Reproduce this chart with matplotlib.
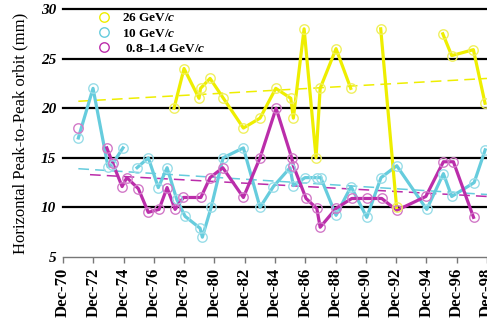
import numpy as np
import matplotlib
matplotlib.use('Agg')
import matplotlib.pyplot as plt
from matplotlib.lines import Line2D

plt.rcParams['font.family'] = ['Liberation Serif', 'DejaVu Serif']
plt.rcParams['mathtext.fontset'] = 'custom'
plt.rcParams['mathtext.rm'] = 'Liberation Serif:bold'
plt.rcParams['mathtext.it'] = 'Liberation Serif:italic:bold'

# measurement dates (decimal years) and peak-to-peak orbit (mm); nan = no data
yr_26 = [1978.25, 1978.91, 1979.90, 1980.00, 1980.63, 1981.51, 1982.83, 1983.93,
         1984.97, 1985.96, 1986.13, 1986.84, 1987.63, 1987.90, 1988.95, 1989.92,
         1990.90, 1991.90, 1992.95, 1994.50, 1996.00, 1996.59, 1998.02, 1998.79]
pp_26 = [20.0, 24.0, 21.0, 22.0, 23.0, 21.0, 18.0, 19.0,
         22.0, 21.0, 19.0, 28.0, 15.0, 22.0, 26.0, 22.0,
         np.nan, 28.0, 10.0, np.nan, 27.5, 25.3, 25.9, 20.5]

yr_10 = [1971.93, 1972.90, 1973.89, 1974.15, 1974.88, 1975.30, 1975.81, 1976.55,
         1977.21, 1977.79, 1978.43, 1978.98, 1979.97, 1980.12, 1980.70, 1981.49,
         1982.83, 1983.93, 1984.81, 1985.91, 1986.13, 1986.90, 1987.68, 1987.94,
         1988.95, 1989.94, 1990.98, 1991.92, 1992.96, 1994.94, 1996.04, 1996.59,
         1998.07, 1998.80]
pp_10 = [17.0, 22.0, 14.1, 14.3, 16.0, np.nan, 14.0, 15.0,
         12.0, 14.0, 10.8, 9.1, 7.9, 7.0, 10.0, 15.0,
         16.0, 10.0, 12.1, 14.0, 12.2, 13.0, 13.0, 13.0,
         9.2, 12.1, 9.0, 13.0, 14.2, 9.8, 13.4, 11.1,
         12.5, 15.8]

yr_ps = [1971.93, 1972.80, 1973.81, 1974.19, 1974.82, 1975.13, 1975.89, 1976.55,
         1977.26, 1977.79, 1978.32, 1978.87, 1980.02, 1980.63, 1981.47, 1982.83,
         1983.93, 1984.99, 1986.02, 1986.13, 1986.97, 1987.68, 1987.90, 1988.95,
         1989.99, 1990.98, 1991.97, 1992.96, 1994.88, 1996.04, 1996.70, 1998.03]
pp_ps = [18.0, np.nan, 16.0, 14.5, 12.1, 13.0, 11.9, 9.5,
         9.8, 12.0, 9.8, 11.0, 11.0, 13.0, 14.0, 11.0,
         15.0, 20.0, 15.0, 14.2, 10.9, 9.9, 8.0, 9.9,
         10.9, 10.9, 10.9, 9.7, 11.1, 14.6, 14.6, 9.0]

# linear trend end points
trend_26 = ([1971.93, 1998.92], [20.7, 23.0])
trend_10 = ([1971.93, 1998.92], [13.9, 11.3])
trend_ps = ([1972.70, 1998.92], [13.3, 11.1])

labels = ['26 GeV/$c$', '10 GeV/$c$', ' 0.8\u20131.4 GeV/$c$']
tick_years = list(range(1970, 1999, 2))
tick_labels = ['Dec-%02d' % (y % 100) for y in tick_years]

c_26, e_26 = '#EEEE00', '#F0F060'
c_10, e_10 = '#66CCDD', '#99DDE8'
c_ps, e_ps = '#BB2DAA', '#D27AC8'

fig = plt.figure(figsize=(4.87, 3.2), dpi=100)
ax = fig.add_axes([63 / 487, 63 / 320, 424 / 487, 248 / 320])

for y in [10, 15, 20, 25, 30]:
    ax.axhline(y, color='black', lw=1.6, zorder=1, clip_on=False)

for (tx, ty), col in [(trend_26, c_26), (trend_10, c_10), (trend_ps, c_ps)]:
    ax.plot(tx, ty, color=col, lw=1.1, ls=(0, (7, 4)), zorder=2)

for xs, ys, col, ec in [(yr_10, pp_10, c_10, e_10), (yr_ps, pp_ps, c_ps, e_ps),
                        (yr_26, pp_26, c_26, e_26)]:
    ax.plot(xs, ys, color=col, lw=2.3, zorder=3)
    ax.plot(xs, ys, ls='none', marker='o', ms=6.8, mfc='none', mec=ec, mew=1.0, zorder=4)

ax.set_xlim(1970.92, 1998.92)
ax.set_ylim(5, 30)
ax.set_yticks([5, 10, 15, 20, 25, 30])
ax.set_yticklabels(['5', '10', '15', '20', '25', '30'], fontsize=11,
                   fontweight='bold', fontstyle='italic')
ax.set_xticks([y + 11 / 12 for y in tick_years])
ax.set_xticklabels(tick_labels, rotation=90, fontsize=12, fontweight='bold')
ax.tick_params(axis='y', length=0, pad=5)
ax.tick_params(axis='x', length=4, width=1, color='#777777', pad=4)
for side in ['left', 'right', 'top']:
    ax.spines[side].set_visible(False)
ax.spines['bottom'].set_color('#777777')
ax.spines['bottom'].set_linewidth(1)
ax.set_ylabel('Horizontal Peak-to-Peak orbit (mm)', fontsize=12, labelpad=9)

handles = [Line2D([], [], ls='none', marker='o', ms=6.8, mfc='none', mec=c, mew=1.0)
           for c in [c_26, c_10, c_ps]]
ax.legend(handles, labels, loc='upper left', bbox_to_anchor=(0.05, 1.035),
          frameon=False, handlelength=1.2, handletextpad=0.8, labelspacing=0.22,
          prop={'family': 'Liberation Serif', 'weight': 'bold', 'size': 9.5})

fig.savefig('out.png', dpi=100)
